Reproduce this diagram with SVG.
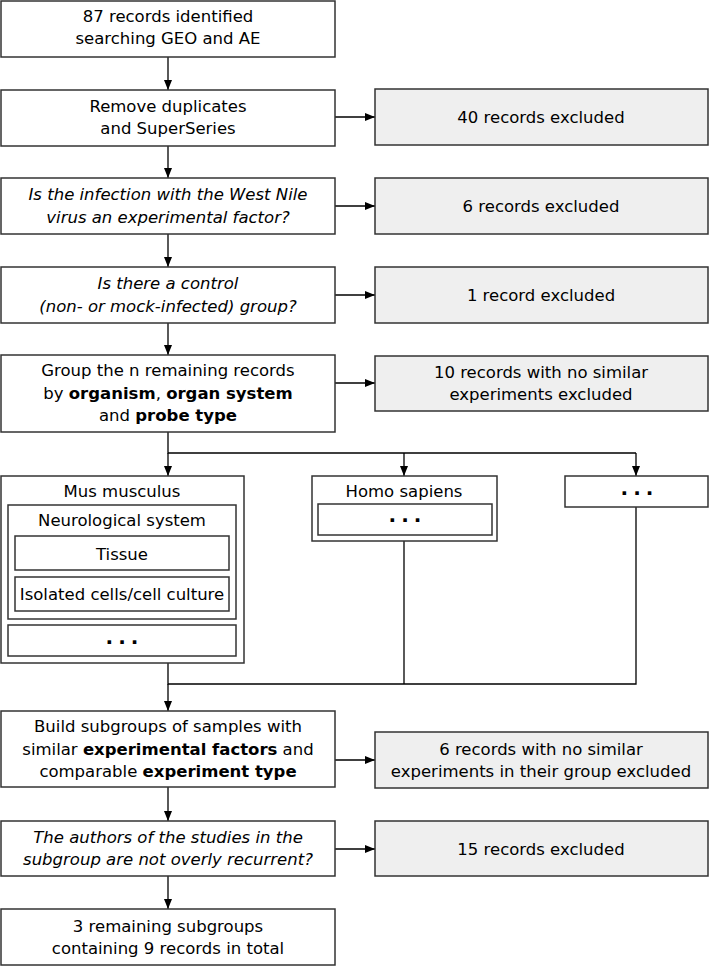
<svg xmlns="http://www.w3.org/2000/svg" width="710" height="966" viewBox="0 0 710 966">
<style>
text{font-family:"DejaVu Sans","Liberation Sans",sans-serif;font-size:16.5px;fill:#000;text-anchor:middle}
.box{fill:#fff;stroke:#333;stroke-width:1.5}
.ex{fill:#efefef;stroke:#333;stroke-width:1.5}
.it{font-style:italic}
.b{font-weight:bold}
.dots{font-weight:bold;font-size:20px;letter-spacing:5px}
.ln{fill:none;stroke:#000;stroke-width:1.3}
</style>
<defs>
<marker id="ar" markerWidth="10" markerHeight="8" refX="10" refY="4" orient="auto" markerUnits="userSpaceOnUse">
<path d="M0,0 L10,4 L0,8 Z" fill="#000"/>
</marker>
</defs>
<g id="connectors">
<line class="ln" x1="168" y1="57" x2="168" y2="90" marker-end="url(#ar)"/>
<line class="ln" x1="168" y1="146" x2="168" y2="178" marker-end="url(#ar)"/>
<line class="ln" x1="168" y1="234" x2="168" y2="267" marker-end="url(#ar)"/>
<line class="ln" x1="168" y1="323" x2="168" y2="355" marker-end="url(#ar)"/>
<line class="ln" x1="335" y1="117" x2="375" y2="117" marker-end="url(#ar)"/>
<line class="ln" x1="335" y1="206" x2="375" y2="206" marker-end="url(#ar)"/>
<line class="ln" x1="335" y1="295" x2="375" y2="295" marker-end="url(#ar)"/>
<line class="ln" x1="335" y1="383" x2="375" y2="383" marker-end="url(#ar)"/>
<polyline class="ln" points="168,432 168,453 636,453"/>
<line class="ln" x1="168" y1="453" x2="168" y2="476" marker-end="url(#ar)"/>
<line class="ln" x1="404" y1="453" x2="404" y2="476" marker-end="url(#ar)"/>
<line class="ln" x1="636" y1="453" x2="636" y2="476" marker-end="url(#ar)"/>
<polyline class="ln" points="168,663 168,684 636,684 636,507"/>
<line class="ln" x1="404" y1="541" x2="404" y2="684"/>
<line class="ln" x1="168" y1="684" x2="168" y2="711" marker-end="url(#ar)"/>
<line class="ln" x1="335" y1="760" x2="375" y2="760" marker-end="url(#ar)"/>
<line class="ln" x1="168" y1="787" x2="168" y2="821" marker-end="url(#ar)"/>
<line class="ln" x1="335" y1="849" x2="375" y2="849" marker-end="url(#ar)"/>
<line class="ln" x1="168" y1="876" x2="168" y2="909" marker-end="url(#ar)"/>
</g>
<g id="n1"><rect class="box" x="1" y="1" width="334" height="56"/><text x="168" y="22">87 records identified</text><text x="168" y="44">searching GEO and AE</text></g>
<g id="n2"><rect class="box" x="1" y="90" width="334" height="56"/><text x="168" y="112">Remove duplicates</text><text x="168" y="134">and SuperSeries</text></g>
<g id="x1"><rect class="ex" x="375" y="89" width="333" height="56"/><text x="541" y="123">40 records excluded</text></g>
<g id="n3"><rect class="box" x="1" y="178" width="334" height="56"/><text class="it" x="168" y="200">Is the infection with the West Nile</text><text class="it" x="168" y="223">virus an experimental factor?</text></g>
<g id="x2"><rect class="ex" x="375" y="178" width="333" height="56"/><text x="541" y="212">6 records excluded</text></g>
<g id="n4"><rect class="box" x="1" y="267" width="334" height="56"/><text class="it" x="168" y="289">Is there a control</text><text class="it" x="168" y="312">(non- or mock-infected) group?</text></g>
<g id="x3"><rect class="ex" x="375" y="267" width="333" height="56"/><text x="541" y="301">1 record excluded</text></g>
<g id="n5"><rect class="box" x="1" y="355" width="334" height="77"/><text x="168" y="376">Group the n remaining records</text><text x="168" y="399">by <tspan class="b">organism</tspan>, <tspan class="b">organ system</tspan></text><text x="168" y="421">and <tspan class="b">probe type</tspan></text></g>
<g id="x4"><rect class="ex" x="375" y="356" width="333" height="55"/><text x="541" y="378">10 records with no similar</text><text x="541" y="400">experiments excluded</text></g>
<g id="mus"><rect class="box" x="1" y="476" width="243" height="187"/><text x="122" y="497">Mus musculus</text></g>
<g id="neuro"><rect class="box" x="8" y="505" width="228" height="114"/><text x="122" y="526">Neurological system</text></g>
<g id="tissue"><rect class="box" x="15" y="536" width="214" height="34"/><text x="122" y="560">Tissue</text></g>
<g id="cells"><rect class="box" x="15" y="577" width="214" height="34"/><text x="122" y="600">Isolated cells/cell culture</text></g>
<g id="musdots"><rect class="box" x="8" y="625" width="228" height="31"/><text class="dots" x="124.5" y="644">...</text></g>
<g id="homo"><rect class="box" x="312" y="476" width="185" height="65"/><text x="404" y="497">Homo sapiens</text></g>
<g id="homodots"><rect class="box" x="318" y="504" width="174" height="31"/><text class="dots" x="407.5" y="522">...</text></g>
<g id="otherdots"><rect class="box" x="565" y="476" width="143" height="31"/><text class="dots" x="639.5" y="495">...</text></g>
<g id="n6"><rect class="box" x="1" y="711" width="334" height="76"/><text x="168" y="732">Build subgroups of samples with</text><text x="168" y="755">similar <tspan class="b">experimental factors</tspan> and</text><text x="168" y="777">comparable <tspan class="b">experiment type</tspan></text></g>
<g id="x5"><rect class="ex" x="375" y="732" width="333" height="56"/><text x="541" y="755">6 records with no similar</text><text x="541" y="777">experiments in their group excluded</text></g>
<g id="n7"><rect class="box" x="1" y="821" width="334" height="55"/><text class="it" x="168" y="843">The authors of the studies in the</text><text class="it" x="168" y="865">subgroup are not overly recurrent?</text></g>
<g id="x6"><rect class="ex" x="375" y="821" width="333" height="55"/><text x="541" y="855">15 records excluded</text></g>
<g id="n8"><rect class="box" x="1" y="909" width="334" height="56"/><text x="168" y="932">3 remaining subgroups</text><text x="168" y="954">containing 9 records in total</text></g>
</svg>
